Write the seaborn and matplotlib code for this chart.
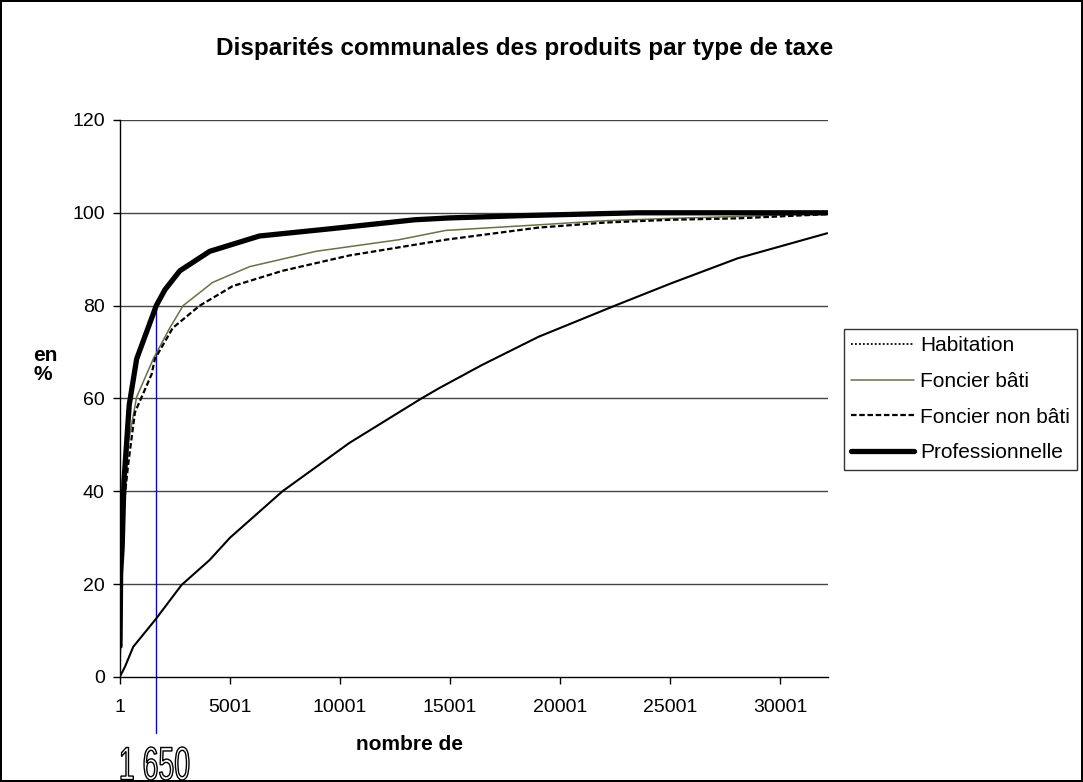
import matplotlib
matplotlib.use('Agg')
import matplotlib.pyplot as plt
from matplotlib.lines import Line2D
from matplotlib.patches import PathPatch
from matplotlib.textpath import TextPath
from matplotlib.font_manager import FontProperties
from matplotlib.transforms import Affine2D
import seaborn as sns

# Données (rang de la commune, % cumulé du produit)
x_habitation = [1, 227, 603, 1650, 2795, 4075, 5000, 7385, 10420, 13700, 14500, 16450, 19030, 22500, 25050, 28080, 32150]
y_habitation = [0.1, 2.2, 6.5, 12.6, 19.8, 25.2, 30.0, 40.0, 50.4, 60.0, 62.2, 67.2, 73.3, 80.0, 84.8, 90.2, 95.6]

x_foncier_bati = [1, 30, 77, 150, 376, 757, 1510, 2265, 2870, 4210, 5890, 8910, 12680, 14800, 19000, 22060, 25050, 28080, 32150]
y_foncier_bati = [1.5, 15.0, 25.6, 33.9, 50.4, 60.3, 68.5, 75.2, 80.0, 85.0, 88.4, 91.7, 94.2, 96.2, 97.4, 98.3, 98.8, 99.2, 99.9]

x_foncier_non_bati = [1, 30, 100, 200, 363, 680, 1436, 1586, 2400, 3625, 5120, 7385, 10420, 14800, 19000, 22060, 25050, 28080, 32150]
y_foncier_non_bati = [5.0, 18.0, 30.0, 38.0, 45.4, 57.0, 65.2, 68.5, 75.2, 80.0, 84.2, 87.5, 90.8, 94.2, 96.8, 97.9, 98.5, 98.8, 99.7]

x_professionnelle = [1, 30, 100, 180, 420, 757, 1650, 2040, 2720, 4080, 6340, 9650, 13400, 15000, 18350, 23500, 32150]
y_professionnelle = [6.6, 22.3, 28.0, 42.1, 58.6, 68.5, 80.0, 83.4, 87.5, 91.7, 95.0, 96.6, 98.5, 98.9, 99.4, 100.0, 100.0]

series_noms = ['Habitation', 'Foncier bâti', 'Foncier non bâti', 'Professionnelle']
x_ticks = [1, 5001, 10001, 15001, 20001, 25001, 30001]
y_ticks = [0, 20, 40, 60, 80, 100, 120]
rang_repere = 1650
pct_repere = 80

# Style
sns.set_style('white')
plt.rcParams['font.family'] = ['Liberation Sans', 'DejaVu Sans']
for k in ['text.color', 'axes.labelcolor', 'xtick.color', 'ytick.color']:
    plt.rcParams[k] = 'black'

fig = plt.figure(figsize=(10.83, 7.82), dpi=100)
fig.patch.set_edgecolor('black')
fig.patch.set_linewidth(1.5)
ax = fig.add_axes([0.1108, 0.1343, 0.6537, 0.7123])

# Courbes (les points très serrés de la série Habitation donnent un trait plein)
sns.lineplot(x=x_habitation, y=y_habitation, ax=ax, color='black', lw=1.5, legend=False)
sns.lineplot(x=x_foncier_bati, y=y_foncier_bati, ax=ax, color='#6e6e48', lw=1.1, legend=False)
sns.lineplot(x=x_foncier_non_bati, y=y_foncier_non_bati, ax=ax, color='black', lw=1.6,
             linestyle=(0, (2.5, 1.2)), legend=False)
sns.lineplot(x=x_professionnelle, y=y_professionnelle, ax=ax, color='black', lw=3.8, legend=False)

# Repère vertical à 1 650 communes
ax.axvline(rang_repere, ymin=-0.1, ymax=pct_repere / 120, color='blue', lw=1, clip_on=False, zorder=1)

# Axes
ax.set_xlim(1, 32180)
ax.set_ylim(0, 120)
ax.set_xticks(x_ticks)
ax.set_xticklabels([str(t) for t in x_ticks])
ax.set_yticks(y_ticks)
ax.tick_params(axis='both', labelsize=14, length=5, width=1, color='black', direction='out',
               bottom=True, left=True)
ax.tick_params(axis='x', pad=11)
ax.tick_params(axis='y', pad=6)
for t in y_ticks[1:]:
    ax.axhline(t, color='#444444', lw=1, zorder=0)
for s in ['top', 'right']:
    ax.spines[s].set_visible(False)
for s in ['left', 'bottom']:
    ax.spines[s].set_color('black')
    ax.spines[s].set_linewidth(1)
ax.set_xlabel('')
ax.set_ylabel('')

# Textes
fig.text(525 / 1083, 1 - 48 / 782, 'Disparités communales des produits par type de taxe',
         ha='center', va='center', fontsize=17.5, fontweight='bold')
fig.text(410 / 1083, 1 - 745 / 782, 'nombre de', ha='center', va='center', fontsize=15, fontweight='bold')
fig.text(33 / 1083, 1 - 365 / 782, 'en\n%', ha='left', va='center', fontsize=15, fontweight='bold',
         linespacing=1.0)

# "1 650" en lettres évidées, étroites et hautes
tp = TextPath((0, 0), '1 650', size=40, prop=FontProperties(family=['Liberation Sans Narrow', 'Liberation Sans']))
ext = tp.get_extents()
sx = 68 / ext.width
sy = 33 / ext.height
trans = Affine2D().translate(-ext.x0, -ext.y0).scale(sx, sy).translate(121, 782 - 780)
fig.add_artist(PathPatch(tp, transform=trans, facecolor='white', edgecolor='black', lw=1.0))

# Légende
handles = [
    Line2D([], [], color='black', lw=1.3, linestyle=(0, (1, 1.2))),
    Line2D([], [], color='#6e6e48', lw=1.1),
    Line2D([], [], color='black', lw=1.6, linestyle=(0, (2.5, 1.2))),
    Line2D([], [], color='black', lw=3.8),
]
leg = fig.legend(handles, series_noms, loc='upper left', bbox_to_anchor=(0.7793, 0.5793),
                 fontsize=15, frameon=True, fancybox=False, borderaxespad=0,
                 handlelength=3.0, handletextpad=0.3, labelspacing=0.8, borderpad=0.35)
leg.get_frame().set_edgecolor('black')
leg.get_frame().set_linewidth(1)

fig.savefig('out.png', dpi=100, edgecolor=fig.get_edgecolor())
